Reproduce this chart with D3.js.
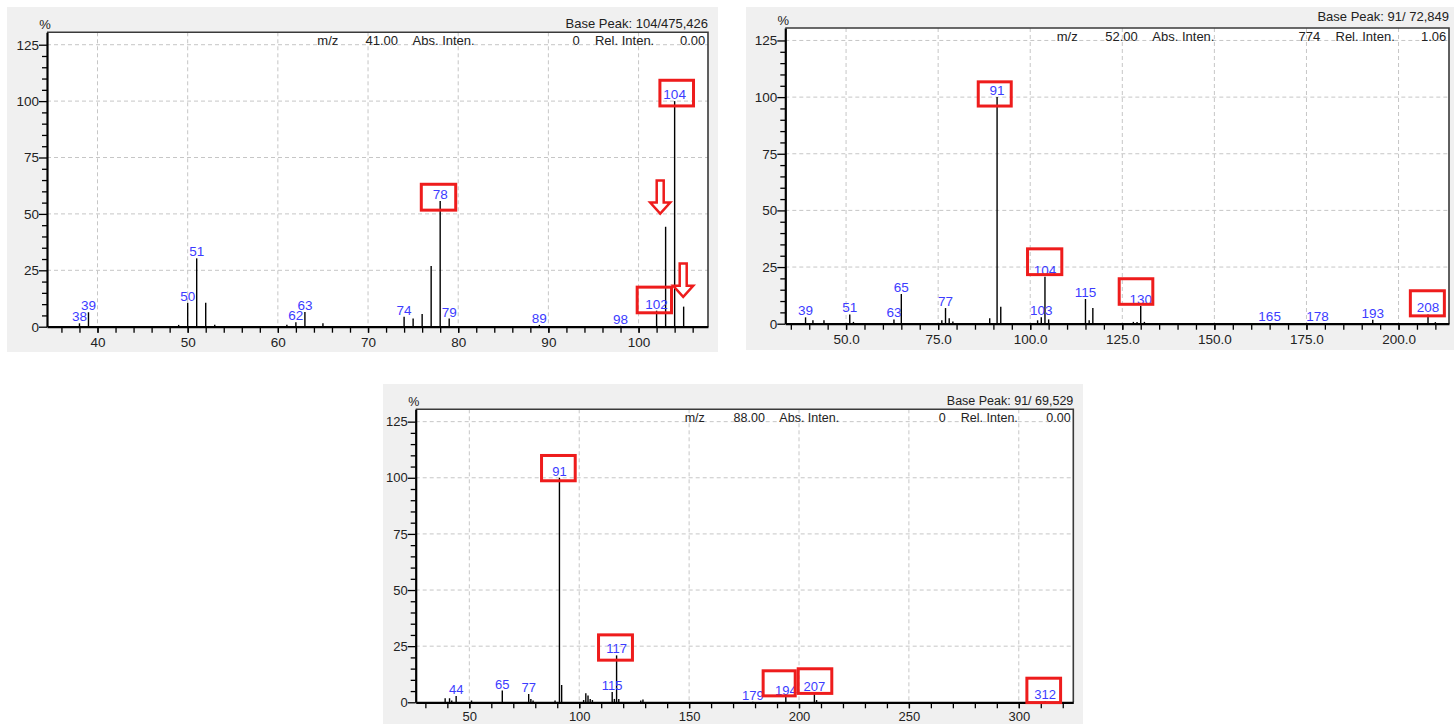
<!DOCTYPE html>
<html>
<head>
<meta charset="utf-8">
<script src="https://cdn.jsdelivr.net/npm/d3@7"></script>
<style>
  body { margin: 0; background: #fff; }
  svg { display: block; }
  text { font-family: "Liberation Sans", Arial, sans-serif; }
</style>
</head>
<body>
<svg id="chart" width="1454" height="724"></svg>
<script>
// ---- Spectrum 1 ----
const mz1 = [38, 39, 49, 50, 51, 52, 53, 61, 62, 63, 65, 74, 75, 76, 77, 78, 79, 89, 98, 102, 103, 104, 105];
const int1 = [1.5, 6.4, 0.8, 10.6, 30.3, 10.6, 0.9, 0.9, 2.0, 6.5, 1.5, 4.4, 3.6, 5.6, 26.9, 55.7, 3.6, 0.8, 0.4, 7.1, 44.3, 100, 8.9];
const peakLabels1 = [38, 39, 50, 51, 62, 63, 74, 78, 79, 89, 98, 102, 104];
const xTicks1 = [40, 50, 60, 70, 80, 90, 100];
const header1 = ["41.00", "0", "0.00"];
const basePeak1 = "Base Peak: 104/475,426";
// highlight boxes: [mz from, mz to, rel. from, rel. to]
const boxes1 = [[75.74, 79.89, 51.0, 63.8], [99.68, 103.82, 5.5, 18.2], [102.2, 106.26, 97.2, 109.9]];
// down arrows: [mz, rel. top, rel. tip]
const arrows1 = [[102.4, 65.3, 49.5], [104.95, 28.5, 12.6]];

// ---- Spectrum 2 ----
const mz2 = [39, 41, 44, 51, 52, 63, 65, 76, 77, 78, 79, 89, 91, 92, 102, 103, 104, 105, 115, 116, 117, 128, 129, 130, 131, 165, 178, 193, 208, 210];
const int2 = [2.8, 1.5, 1.5, 4.1, 0.8, 1.9, 13.1, 1.5, 6.9, 2.4, 1.0, 2.4, 100, 7.5, 1.5, 2.8, 20.7, 1.9, 10.9, 1.5, 6.9, 0.8, 0.8, 7.8, 0.8, 0.3, 0.3, 1.7, 4.1, 0.7];
const peakLabels2 = [39, 51, 63, 65, 77, 91, 103, 104, 115, 130, 165, 178, 193, 208];
const xTicks2 = [50, 75, 100, 125, 150, 175, 200];
const header2 = ["52.00", "774", "1.06"];
const basePeak2 = "Base Peak: 91/ 72,849";
const boxes2 = [[85.48, 95.25, 95.4, 107.4], [98.86, 108.98, 21.0, 33.7], [123.75, 133.69, 7.9, 20.5], [202.8, 212.85, 2.8, 15.2]];
const arrows2 = [];

// ---- Spectrum 3 ----
const mz3 = [39, 41, 42, 44, 51, 65, 77, 78, 79, 89, 91, 92, 102, 103, 104, 105, 106, 115, 116, 117, 118, 128, 129, 179, 194, 207, 208, 312];
const int3 = [1.8, 1.8, 0.8, 2.8, 0.8, 5.2, 3.7, 1.5, 0.8, 0.8, 100, 7.7, 1.0, 4.0, 3.0, 1.5, 1.0, 4.6, 1.5, 20.9, 1.5, 0.8, 1.3, 0.3, 2.5, 4.0, 1.0, 0.5];
const peakLabels3 = [44, 65, 77, 91, 115, 117, 179, 194, 207, 312];
const xTicks3 = [50, 100, 150, 200, 250, 300];
const header3 = ["88.00", "0", "0.00"];
const basePeak3 = "Base Peak: 91/ 69,529";
const boxes3 = [[82.17, 98.86, 98.0, 110.6], [108.1, 124.9, 18.1, 30.7], [183.0, 198.95, 2.2, 14.7], [198.95, 215.6, 3.3, 15.6], [303, 319.7, -0.8, 11.4]];
const arrows3 = [];

const yTicks = [0, 25, 50, 75, 100, 125];
const yMax = 130.5;

const panels = [
  { mz: mz1, inten: int1, labels: peakLabels1, xTicks: xTicks1, minorStep: 2, fmt: d3.format("d"),
    header: header1, basePeak: basePeak1, boxes: boxes1, arrows: arrows1,
    bg: [7, 7, 718, 352], plot: [47, 32.3, 708, 326.7], xDomain: [34.4, 107.7], fs: 13.5, bpGap: 4, xlabGap: 20.5 },
  { mz: mz2, inten: int2, labels: peakLabels2, xTicks: xTicks2, minorStep: 5, fmt: d3.format(".1f"),
    header: header2, basePeak: basePeak2, boxes: boxes2, arrows: arrows2,
    bg: [746, 7, 1454, 350], plot: [785.3, 28, 1449, 323.7], xDomain: [33.5, 213.7], fs: 13.5, bpGap: 7, xlabGap: 20.5 },
  { mz: mz3, inten: int3, labels: peakLabels3, xTicks: xTicks3, minorStep: 10, fmt: d3.format("d"),
    header: header3, basePeak: basePeak3, boxes: boxes3, arrows: arrows3,
    bg: [383, 384, 1083, 724], plot: [415.7, 409.3, 1073.3, 702.3], xDomain: [25.6, 324.8], fs: 13, bpGap: 4, xlabGap: 18.5 }
];

const RED = "#ee1c1c";
const LABEL_BLUE = "#3c3cff";
const TEXT = "#222";

const svg = d3.select("#chart");

panels.forEach(p => {
  const g = svg.append("g");
  const [x0, y0, x1, y1] = p.plot;
  const x = d3.scaleLinear().domain(p.xDomain).range([x0, x1]);
  const y = d3.scaleLinear().domain([0, yMax]).range([y1, y0]);

  // window background and plot area
  g.append("rect")
    .attr("x", p.bg[0]).attr("y", p.bg[1])
    .attr("width", p.bg[2] - p.bg[0]).attr("height", p.bg[3] - p.bg[1])
    .attr("fill", "#f0f0f0");
  g.append("rect")
    .attr("x", x0).attr("y", y0).attr("width", x1 - x0).attr("height", y1 - y0)
    .attr("fill", "#fff");

  // dashed grid
  g.append("g").selectAll("line").data(p.xTicks).join("line")
    .attr("x1", d => x(d)).attr("x2", d => x(d))
    .attr("y1", y0).attr("y2", y1)
    .attr("stroke", "#c6c6c6").attr("stroke-width", 1).attr("stroke-dasharray", "4,3");
  g.append("g").selectAll("line").data(yTicks.filter(d => d > 0)).join("line")
    .attr("x1", x0).attr("x2", x1)
    .attr("y1", d => y(d)).attr("y2", d => y(d))
    .attr("stroke", "#c6c6c6").attr("stroke-width", 1).attr("stroke-dasharray", "4,3");

  // readout line at the top of the plot
  const w = x1 - x0;
  const hy = y(125) + 0.5;
  const headerItems = [
    ["m/z", 0.409, "start"], [p.header[0], 0.531, "end"],
    ["Abs. Inten.", 0.553, "start"], [p.header[1], 0.806, "end"],
    ["Rel. Inten.", 0.829, "start"], [p.header[2], 0.996, "end"]
  ];
  g.append("g").selectAll("text").data(headerItems).join("text")
    .attr("x", d => x0 + d[1] * w).attr("y", hy)
    .attr("text-anchor", d => d[2])
    .attr("font-size", p.fs - 0.5).attr("fill", TEXT)
    .text(d => d[0]);

  g.append("text")
    .attr("x", x1).attr("y", y0 - p.bpGap)
    .attr("text-anchor", "end").attr("font-size", p.fs - 0.5).attr("fill", TEXT)
    .text(p.basePeak);

  g.append("text")
    .attr("x", x0 - 2).attr("y", y0 - 3)
    .attr("text-anchor", "middle").attr("font-size", p.fs - 0.5).attr("fill", TEXT)
    .text("%");

  // spectrum sticks
  const peaks = d3.zip(p.mz, p.inten);
  g.append("g").selectAll("line").data(peaks).join("line")
    .attr("x1", d => x(d[0])).attr("x2", d => x(d[0]))
    .attr("y1", y(0)).attr("y2", d => y(d[1]))
    .attr("stroke", "#000").attr("stroke-width", 1.4);

  // peak labels
  const labelled = p.labels.map(m => [m, p.inten[p.mz.indexOf(m)]]);
  g.append("g").selectAll("text").data(labelled).join("text")
    .attr("x", d => x(d[0])).attr("y", d => y(d[1]) - 2)
    .attr("text-anchor", "middle").attr("font-size", p.fs).attr("fill", LABEL_BLUE)
    .text(d => d[0]);

  // plot frame (top and right)
  g.append("path")
    .attr("d", `M${x0},${y0}H${x1}V${y1}`)
    .attr("fill", "none").attr("stroke", "#3a3a3a").attr("stroke-width", 1.6);

  // x axis
  const minorX = d3.range(Math.ceil(p.xDomain[0] / p.minorStep) * p.minorStep, p.xDomain[1], p.minorStep);
  g.append("g").attr("transform", `translate(0,${y1})`)
    .call(d3.axisBottom(x).tickValues(minorX).tickSize(6).tickSizeOuter(0).tickFormat(""))
    .call(a => a.select(".domain").remove())
    .call(a => a.selectAll(".tick line").attr("stroke", "#000").attr("stroke-width", 1.3));
  const xa = g.append("g").attr("transform", `translate(0,${y1})`)
    .call(d3.axisBottom(x).tickValues(p.xTicks).tickSize(6).tickSizeOuter(0).tickFormat(p.fmt));
  xa.select(".domain").attr("stroke", "#000").attr("stroke-width", 2.2);
  xa.selectAll(".tick line").attr("stroke", "#000").attr("stroke-width", 1.3);
  xa.selectAll(".tick text")
    .attr("y", p.xlabGap).attr("dy", null)
    .attr("font-size", p.fs).attr("font-family", "Liberation Sans, Arial, sans-serif").attr("fill", TEXT);

  // y axis
  const minorY = d3.range(0, 126, 5).filter(v => v % 25 !== 0);
  g.append("g").attr("transform", `translate(${x0},0)`)
    .call(d3.axisLeft(y).tickValues(minorY).tickSize(5).tickSizeOuter(0).tickFormat(""))
    .call(a => a.select(".domain").remove())
    .call(a => a.selectAll(".tick line").attr("stroke", "#000").attr("stroke-width", 1.3));
  const ya = g.append("g").attr("transform", `translate(${x0},0)`)
    .call(d3.axisLeft(y).tickValues(yTicks).tickSize(8).tickPadding(0).tickSizeOuter(0));
  ya.select(".domain").attr("stroke", "#000").attr("stroke-width", 2.2);
  ya.selectAll(".tick line").attr("stroke", "#000").attr("stroke-width", 1.3);
  ya.selectAll(".tick text")
    .attr("font-size", p.fs).attr("font-family", "Liberation Sans, Arial, sans-serif").attr("fill", TEXT);

  // highlight boxes
  g.append("g").selectAll("rect").data(p.boxes).join("rect")
    .attr("x", d => x(d[0]) + 1.5).attr("y", d => y(d[3]) + 1.5)
    .attr("width", d => x(d[1]) - x(d[0]) - 3).attr("height", d => y(d[2]) - y(d[3]) - 3)
    .attr("fill", "none").attr("stroke", RED).attr("stroke-width", 3);

  // hollow down arrows
  g.append("g").selectAll("path").data(p.arrows).join("path")
    .attr("d", d => {
      const cx = x(d[0]), top = y(d[1]) + 1, tip = y(d[2]) - 1.5, hh = 11;
      return `M${cx - 3.5},${top}H${cx + 3.5}V${tip - hh}H${cx + 10}L${cx},${tip}L${cx - 10},${tip - hh}H${cx - 3.5}Z`;
    })
    .attr("fill", "#fff").attr("stroke", RED).attr("stroke-width", 2.5)
    .attr("stroke-linejoin", "miter");
});
</script>
</body>
</html>
